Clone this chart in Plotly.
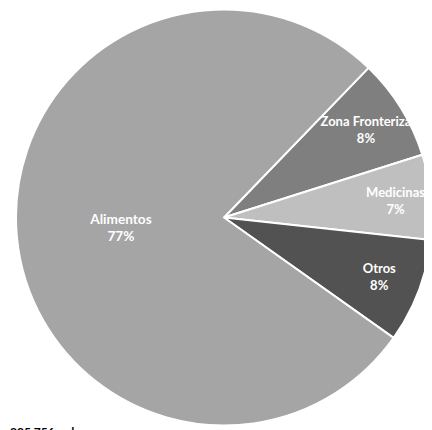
import plotly.graph_objects as go

categories = ["Zona Fronteriza", "Medicinas", "Otros", "Alimentos"]
values = [7.9, 6.6, 8.1, 77.4]
colors = ["#7f7f7f", "#bfbfbf", "#525252", "#a5a5a5"]
label_sizes = [13, 13, 13, 14]
total_label = "205,756 mdp"

fig = go.Figure(go.Pie(
    labels=categories,
    values=values,
    sort=False,
    direction="clockwise",
    rotation=44,
    marker=dict(colors=colors, line=dict(color="white", width=2)),
    textinfo="label+percent",
    texttemplate="<b>%{label}<br>%{percent:.0%}</b>",
    textposition="inside",
    insidetextorientation="horizontal",
    textfont=dict(family="Lato", size=label_sizes, color="white"),
    domain=dict(x=[0.01887, 1], y=[0.01066, 0.99645]),
    showlegend=False,
    hoverinfo="label+percent",
))

fig.update_layout(
    width=424, height=422,
    margin=dict(l=0, r=0, t=0, b=0),
    paper_bgcolor="white",
    uniformtext=dict(minsize=13, mode="show"),
    annotations=[dict(
        text="<b>" + total_label + "</b>",
        xref="paper", yref="paper", x=0, y=0.019,
        xanchor="left", yanchor="top", showarrow=False,
        font=dict(family="Lato", size=12, color="black"),
    )],
)

fig.write_html("out.html")
